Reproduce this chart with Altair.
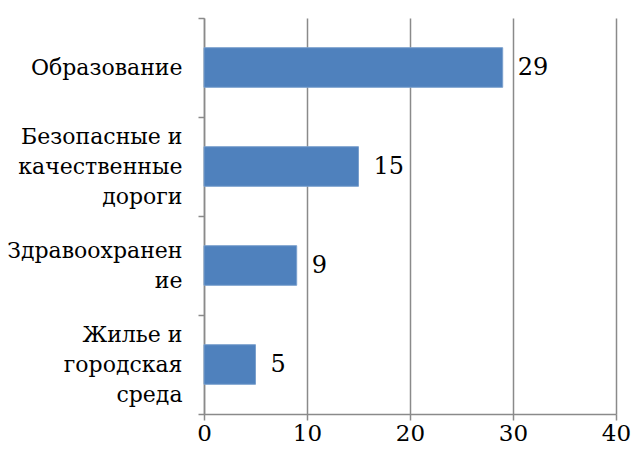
import altair as alt
import pandas as pd

categories = ["Образование", "Безопасные и|качественные|дороги", "Здравоохранен|ие", "Жилье и|городская|среда"]
values = [29, 15, 9, 5]
x_ticks = [0, 10, 20, 30, 40]

df = pd.DataFrame({"cat": categories, "val": values})

FONT = "DejaVu Serif"
GRAY = "#8a8a8a"

y_enc = alt.Y(
    "cat:N",
    sort=categories,
    title=None,
    scale=alt.Scale(paddingInner=0, paddingOuter=0),
    axis=alt.Axis(
        tickBand="extent",
        labelExpr="split(datum.label, '|')",
        labelOffset={"expr": "-(length(split(datum.label, '|')) - 1) * 15"},
        labelFont=FONT,
        labelFontSize=22,
        labelLineHeight=30,
        labelLimit=300,
        labelColor="#000000",
        labelPadding=16,
        tickSize=6,
        tickColor=GRAY,
        tickWidth=1.5,
        domainColor=GRAY,
        domainWidth=1.5,
        grid=False,
    ),
)

x_enc = alt.X(
    "val:Q",
    title=None,
    scale=alt.Scale(domain=[0, 40], nice=False),
    axis=alt.Axis(
        values=x_ticks,
        labelFont=FONT,
        labelFontSize=23,
        labelColor="#000000",
        labelPadding=2,
        tickSize=6,
        tickColor=GRAY,
        tickWidth=1.5,
        domainColor=GRAY,
        domainWidth=1.5,
        grid=True,
        gridColor=GRAY,
        gridWidth=1.5,
        labelFlush=False,
    ),
)

bars = alt.Chart(df).mark_bar(
    color="#4F81BD", stroke="#7BA0CD", strokeWidth=1, height={"band": 0.4}
).encode(x=x_enc, y=y_enc)

text = alt.Chart(df).mark_text(
    align="left", baseline="middle", dx=15, font=FONT, fontSize=24, color="#000000"
).encode(
    x="val:Q", y=alt.Y("cat:N", sort=categories), text="val:Q"
)

chart = (
    alt.layer(bars, text)
    .properties(
        width=412,
        height=396,
        autosize=alt.AutoSizeParams(type="none"),
        padding={"left": 196, "top": 10, "right": 16, "bottom": 29},
    )
    .configure_view(stroke=None)
)

chart.save("out.html", embed_options={"renderer": "svg", "actions": False})
